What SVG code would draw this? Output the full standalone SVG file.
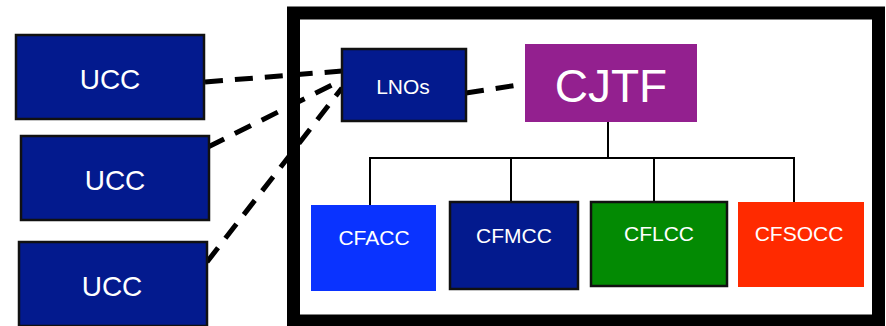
<svg xmlns="http://www.w3.org/2000/svg" width="886" height="326" viewBox="0 0 886 326">
<style>
.lbl{font-family:"Liberation Sans",Arial,sans-serif;fill:#ffffff;text-anchor:middle}
.navy{fill:#031a8e;stroke:#111;stroke-width:2.5}
.dash{stroke:#000;stroke-width:5;stroke-dasharray:18 12;fill:none}
.tree{stroke:#000;stroke-width:2;fill:none}
</style>
<rect x="0" y="0" width="886" height="326" fill="#fff"/>
<g id="frame"><rect x="293.5" y="13" width="585" height="308" fill="#fff" stroke="#000" stroke-width="13"/></g>
<g id="connectors">
<line class="dash" x1="205" y1="82" x2="342" y2="71"/>
<line class="dash" x1="208" y1="147" x2="342" y2="80"/>
<line class="dash" x1="207" y1="262" x2="342" y2="88"/>
<line class="dash" x1="466" y1="93" x2="525" y2="84"/>
<polyline class="tree" points="608,122 608,158"/>
<polyline class="tree" points="370,205 370,158 794,158 794,202"/>
<line class="tree" x1="511" y1="158" x2="511" y2="202"/>
<line class="tree" x1="654" y1="158" x2="654" y2="202"/>
</g>
<g id="ucc1"><rect class="navy" x="16" y="35" width="188" height="84"/><text class="lbl" x="110" y="89" font-size="28">UCC</text></g>
<g id="ucc2"><rect class="navy" x="21" y="136" width="188" height="84"/><text class="lbl" x="115" y="190" font-size="28">UCC</text></g>
<g id="ucc3"><rect class="navy" x="19" y="242" width="188" height="84"/><text class="lbl" x="112" y="296" font-size="28">UCC</text></g>
<g id="lnos"><rect class="navy" x="342" y="49" width="124" height="72"/><text class="lbl" x="403" y="94" font-size="21">LNOs</text></g>
<g id="cjtf"><rect x="525" y="44" width="172" height="78" fill="#93208f"/><text class="lbl" x="611" y="102" font-size="46">CJTF</text></g>
<g id="cfacc"><rect x="311" y="205" width="125" height="86" fill="#0a33ff"/><text class="lbl" x="374" y="245" font-size="21">CFACC</text></g>
<g id="cfmcc"><rect class="navy" x="450" y="202" width="128" height="87"/><text class="lbl" x="514" y="243" font-size="21">CFMCC</text></g>
<g id="cflcc"><rect x="591" y="202" width="136" height="84" fill="#038a03" stroke="#111" stroke-width="2.5"/><text class="lbl" x="659" y="241" font-size="21">CFLCC</text></g>
<g id="cfsocc"><rect x="738" y="202" width="126" height="85" fill="#ff2a00"/><text class="lbl" x="799" y="241" font-size="21">CFSOCC</text></g>
</svg>
